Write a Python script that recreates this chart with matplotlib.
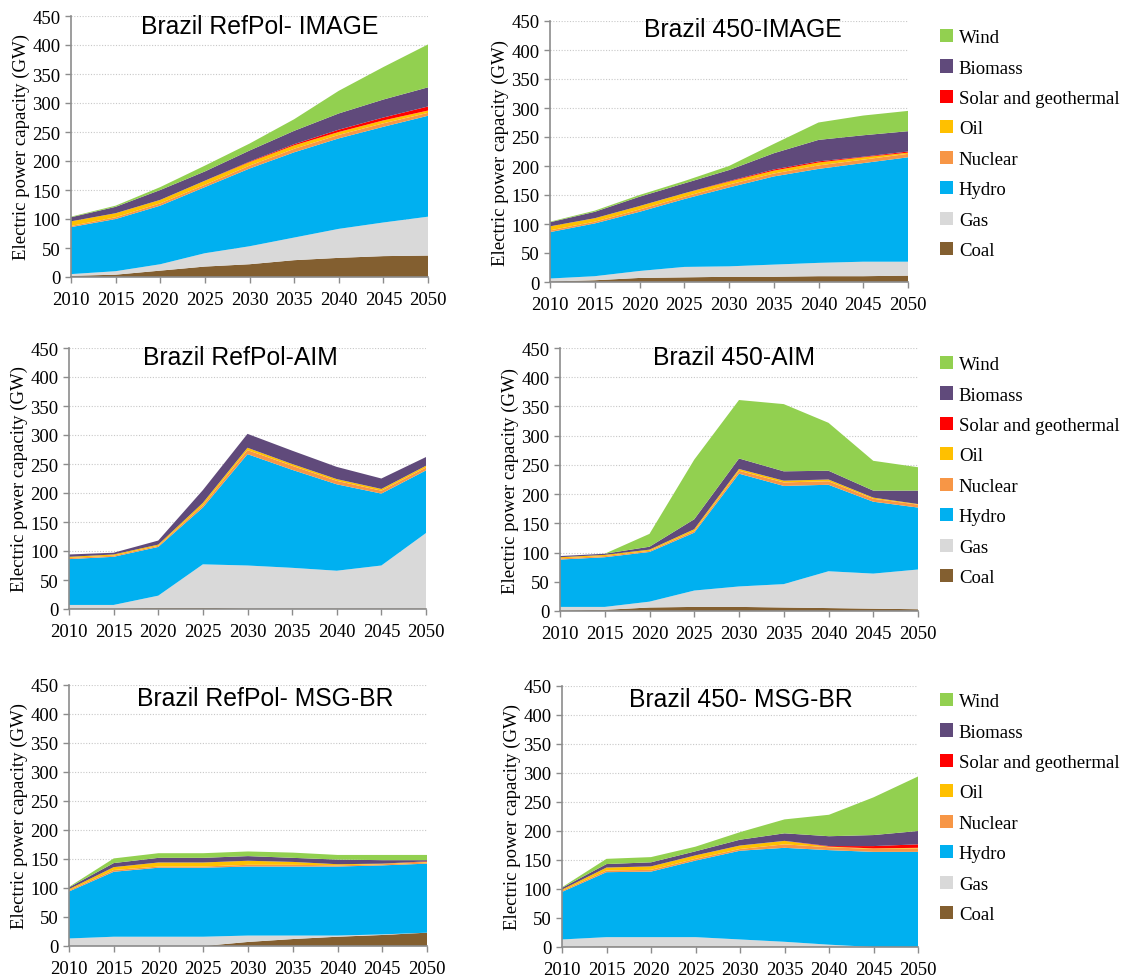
import matplotlib
matplotlib.use("Agg")
import matplotlib.pyplot as plt
from matplotlib.patches import Patch

# ---------------------------------------------------------------------
# data (GW)
# ---------------------------------------------------------------------

YEARS = [2010, 2015, 2020, 2025, 2030, 2035, 2040, 2045, 2050]
TECHS = ["Coal", "Gas", "Hydro", "Nuclear", "Oil",
         "Solar and geothermal", "Biomass", "Wind"]
COLORS = ["#835f30", "#d9d9d9", "#00b0f0", "#f79646", "#ffc000",
          "#ff0000", "#604a7b", "#92d050"]

refpol_image = {
    "Coal": [2, 4, 11, 18, 22, 29, 33, 36, 37],
    "Gas": [3, 6, 11, 23, 31, 39, 50, 58, 67],
    "Hydro": [81, 90, 101, 114, 134, 147, 156, 165, 174],
    "Nuclear": [2, 3, 4, 4, 5, 6, 6, 6, 5],
    "Oil": [8, 7, 6, 7, 6, 6, 5, 5, 4],
    "Solar and geothermal": [0, 0, 0, 0, 1, 2, 4, 5, 7],
    "Biomass": [7, 11, 17, 16, 19, 23, 28, 31, 33],
    "Wind": [1, 2, 5, 10, 12, 20, 39, 56, 74],
}

p450_image = {
    "Coal": [1, 3, 7, 8, 9, 9, 10, 10, 11],
    "Gas": [5, 7, 12, 18, 18, 21, 23, 25, 24],
    "Hydro": [80, 91, 102, 117, 136, 152, 162, 170, 180],
    "Nuclear": [3, 3, 4, 4, 5, 5, 6, 6, 6],
    "Oil": [7, 6, 6, 6, 5, 5, 5, 4, 2],
    "Solar and geothermal": [0, 0, 0, 0, 1, 2, 2, 1, 2],
    "Biomass": [7, 11, 16, 17, 19, 28, 37, 37, 35],
    "Wind": [1, 2, 3, 4, 7, 16, 30, 34, 35],
}

refpol_aim = {
    "Coal": [1, 1, 2, 2, 1, 1, 1, 1, 1],
    "Gas": [6, 6, 21, 75, 74, 70, 65, 74, 130],
    "Hydro": [79, 83, 84, 98, 192, 169, 149, 124, 108],
    "Nuclear": [2, 2, 2, 4, 7, 7, 6, 5, 5],
    "Oil": [2, 2, 2, 4, 4, 3, 3, 3, 3],
    "Solar and geothermal": [0, 0, 0, 0, 0, 0, 0, 0, 0],
    "Biomass": [4, 3, 7, 22, 24, 23, 21, 18, 15],
    "Wind": [0, 0, 0, 0, 0, 0, 0, 0, 0],
}

p450_aim = {
    "Coal": [1, 2, 6, 7, 7, 6, 5, 4, 3],
    "Gas": [6, 5, 10, 28, 35, 40, 63, 60, 68],
    "Hydro": [81, 85, 85, 99, 193, 168, 148, 123, 106],
    "Nuclear": [2, 2, 2, 3, 5, 6, 6, 5, 5],
    "Oil": [2, 2, 2, 3, 3, 3, 3, 2, 1],
    "Solar and geothermal": [0, 0, 0, 0, 0, 0, 0, 0, 0],
    "Biomass": [2, 2, 5, 17, 18, 16, 15, 12, 23],
    "Wind": [0, 0, 22, 102, 100, 115, 82, 51, 40],
}

refpol_msg = {
    "Coal": [0, 0, 0, 0, 7, 12, 16, 19, 23],
    "Gas": [13, 16, 16, 16, 11, 6, 2, 1, 0],
    "Hydro": [81, 112, 119, 119, 119, 119, 119, 119, 119],
    "Nuclear": [2, 3, 2, 2, 3, 3, 2, 2, 2],
    "Oil": [2, 5, 7, 7, 7, 5, 2, 1, 1],
    "Solar and geothermal": [0, 0, 0, 0, 0, 0, 0, 0, 1],
    "Biomass": [3, 7, 8, 8, 8, 7, 8, 6, 2],
    "Wind": [1, 8, 8, 8, 8, 9, 8, 9, 9],
}

p450_msg = {
    "Coal": [0, 1, 1, 1, 1, 1, 1, 0, 0],
    "Gas": [13, 16, 16, 16, 12, 8, 3, 0, 0],
    "Hydro": [82, 112, 113, 132, 153, 162, 163, 164, 164],
    "Nuclear": [2, 3, 3, 3, 3, 6, 5, 5, 6],
    "Oil": [2, 5, 6, 6, 6, 6, 1, 1, 1],
    "Solar and geothermal": [0, 0, 0, 0, 0, 0, 1, 4, 6],
    "Biomass": [3, 6, 7, 7, 10, 13, 17, 19, 23],
    "Wind": [1, 9, 9, 8, 13, 24, 37, 65, 94],
}

# ---------------------------------------------------------------------
# layout (pixel boxes: left, top, right, bottom; title centre)
# ---------------------------------------------------------------------

W, H = 1136, 979
SERIF = "Liberation Serif"
SANS = "Liberation Sans"

plt.rcParams["font.family"] = SERIF

PANELS = [
    (refpol_image, "Brazil RefPol- IMAGE", (71, 17, 428, 278), (260, 27)),
    (p450_image, "Brazil 450-IMAGE", (550, 22, 908, 283), (743, 30)),
    (refpol_aim, "Brazil RefPol-AIM", (69, 349, 426, 610), (240, 358)),
    (p450_aim, "Brazil 450-AIM", (560, 349, 918, 612), (734, 358)),
    (refpol_msg, "Brazil RefPol- MSG-BR", (69, 686, 427, 947), (265, 699)),
    (p450_msg, "Brazil 450- MSG-BR", (562, 687, 918, 948), (741, 700)),
]

LEGEND_TOPS = [30, 357, 694]


def draw_panel(fig, data, title, box, title_pos):
    l, t, r, b = box
    ax = fig.add_axes([l / W, 1 - b / H, (r - l) / W, (b - t) / H])
    ax.stackplot(YEARS, [data[k] for k in TECHS], colors=COLORS,
                 linewidth=0, antialiased=True)
    ax.set_xlim(2010, 2050)
    ax.set_ylim(0, 450)
    ax.set_xticks(YEARS)
    ax.set_yticks(range(0, 451, 50))
    ax.yaxis.grid(True, color="#c8c8c8", linestyle=(0, (1, 1.5)), linewidth=0.8)
    ax.set_axisbelow(True)
    for s in ["top", "right"]:
        ax.spines[s].set_visible(False)
    for s in ["left", "bottom"]:
        ax.spines[s].set_color("#8c8c8c")
        ax.spines[s].set_linewidth(1.2)
    ax.tick_params(axis="both", colors="#8c8c8c", length=4, width=1.0,
                   labelcolor="black", labelsize=13.5)
    ax.tick_params(axis="x", pad=6)
    ax.set_ylabel("Electric power capacity (GW)", fontsize=13.5)
    ax.yaxis.set_label_coords(-0.115, 0.5)
    fig.text(title_pos[0] / W, 1 - title_pos[1] / H, title, fontfamily=SANS,
             fontsize=17.8, ha="center", va="center")
    return ax


fig = plt.figure(figsize=(W / 100, H / 100), dpi=100)

for data, title, box, tpos in PANELS:
    draw_panel(fig, data, title, box, tpos)

handles = [Patch(facecolor=c, edgecolor="none") for c in COLORS][::-1]
labels = TECHS[::-1]
for top in LEGEND_TOPS:
    fig.legend(handles, labels, loc="upper left",
               bbox_to_anchor=(940 / W, 1 - top / H),
               frameon=False, prop={"family": SERIF, "size": 13.5},
               handlelength=0.7, handleheight=0.7, handletextpad=0.3,
               labelspacing=0.71, borderpad=0, borderaxespad=0)

fig.savefig("out.png", dpi=100)
